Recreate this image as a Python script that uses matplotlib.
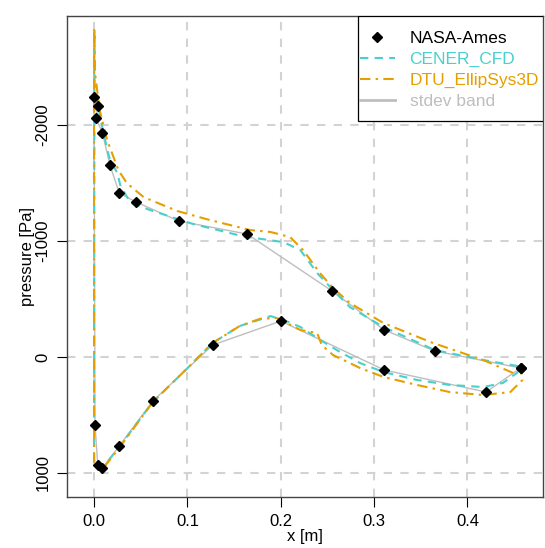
"""Surface pressure along the chord: NASA-Ames measurements vs two CFD codes."""

import matplotlib
matplotlib.use('Agg')
import matplotlib.pyplot as plt
from matplotlib.lines import Line2D
from matplotlib.patches import Rectangle

plt.rcParams['font.family'] = ['Liberation Sans', 'DejaVu Sans']

# NASA-Ames measurements, suction side then pressure side (x [m], p [Pa])
nasa_upper_x = [0.000, 0.004, 0.002, 0.009, 0.017, 0.027, 0.045, 0.091, 0.164, 0.255, 0.311, 0.365, 0.457]
nasa_upper_p = [-2241, -2164, -2060, -1931, -1655, -1414, -1336, -1172, -1060, -569, -233, -52, 95]
nasa_lower_x = [0.001, 0.004, 0.009, 0.027, 0.063, 0.127, 0.200, 0.311, 0.420, 0.457]
nasa_lower_p = [586, 931, 957, 767, 379, -103, -310, 112, 302, 95]

# CENER_CFD: trailing edge -> suction side -> leading edge -> pressure side -> trailing edge
cener_x = [0.454, 0.417, 0.365, 0.310, 0.274, 0.256, 0.239, 0.221, 0.203, 0.160, 0.106, 0.060,
           0.039, 0.028, 0.025, 0.017, 0.010, 0.003, 0.000, 0.0005, 0.000, 0.000, 0.003, 0.009,
           0.027, 0.063, 0.098, 0.127, 0.156, 0.183, 0.189, 0.203, 0.221, 0.239, 0.260, 0.285,
           0.310, 0.346, 0.381, 0.417, 0.438, 0.453, 0.457]
cener_p = [78, 26, -60, -259, -431, -578, -724, -922, -990, -1040, -1147, -1267,
           -1328, -1483, -1586, -1698, -1931, -2216, -2388, -2820, -490, 888, 940, 957,
           776, 388, 112, -121, -267, -336, -353, -319, -259, -164, -60, 52,
           129, 198, 241, 259, 224, 138, 95]

# DTU_EllipSys3D, same ordering
dtu_x = [0.449, 0.417, 0.363, 0.310, 0.274, 0.256, 0.242, 0.224, 0.210, 0.189, 0.167, 0.124,
         0.089, 0.053, 0.035, 0.026, 0.014, 0.006, 0.001, 0.000, 0.000, 0.000, 0.003, 0.010,
         0.027, 0.063, 0.098, 0.127, 0.156, 0.178, 0.196, 0.221, 0.239, 0.244, 0.256, 0.285,
         0.310, 0.346, 0.381, 0.417, 0.446, 0.459, 0.457]
dtu_p = [138, 26, -121, -293, -466, -595, -724, -922, -1034, -1078, -1095, -1181,
         -1259, -1379, -1500, -1612, -1871, -2129, -2448, -2836, -490, 905, 945, 957,
         784, 388, 112, -121, -267, -330, -336, -233, -207, -103, -17, 95,
         172, 241, 302, 328, 302, 198, 112]

x_ticks = [0.0, 0.1, 0.2, 0.3, 0.4]
x_ticklabels = ['0.0', '0.1', '0.2', '0.3', '0.4']
p_ticks = [-2000, -1000, 0, 1000]
p_ticklabels = ['-2000', '-1000', '0', '1000']

CYAN = '#48D1CC'
ORANGE = '#E69F00'
GREY = '#BEBEBE'

fig = plt.figure(figsize=(5.45, 5.48), dpi=100)
ax = fig.add_axes([67 / 545, 51 / 548, 476 / 545, 481 / 548])

for t in x_ticks:
    ax.axvline(t, color='#D3D3D3', lw=1.5, ls=(0, (4, 4)), zorder=0)
for t in p_ticks:
    ax.axhline(t, color='#D3D3D3', lw=1.5, ls=(0, (4, 4)), zorder=0)

# stdev band drawn as a thin grey outline through the measurements
band_x = nasa_upper_x[::-1] + nasa_lower_x
band_p = nasa_upper_p[::-1] + nasa_lower_p
ax.plot(band_x, band_p, color=GREY, lw=1.0, zorder=1)

ax.plot(cener_x, cener_p, color=CYAN, lw=1.5, ls=(0, (4, 3)), zorder=2)
ax.plot(dtu_x, dtu_p, color=ORANGE, lw=1.5, ls=(0, (5, 2.5, 1.2, 2.5)), zorder=3)

ax.plot(nasa_upper_x + nasa_lower_x, nasa_upper_p + nasa_lower_p, ls='none',
        marker='D', ms=5.5, color='black', zorder=4)

ax.set_xlim(-0.029, 0.481)
ax.set_ylim(1207, -2940)
ax.set_xticks(x_ticks)
ax.set_xticklabels(x_ticklabels, fontsize=12)
ax.set_yticks(p_ticks)
ax.set_yticklabels(p_ticklabels, fontsize=12, rotation=90, va='center')
ax.tick_params(direction='out', length=7, width=0.8, pad=5)
ax.set_xlabel('x [m]', fontsize=12, labelpad=0)
ax.set_ylabel('pressure [Pa]', fontsize=12, labelpad=0)
for s in ax.spines.values():
    s.set_color('#444444')
    s.set_linewidth(1.0)

# R-style legend box: drawn separately so it can be taller than matplotlib's padding allows
ax.add_patch(Rectangle((0.611, 0.782), 0.389, 0.218, transform=ax.transAxes,
                       facecolor='white', edgecolor='black', lw=0.9, zorder=5))

handles = [
    Line2D([0], [0], ls='none', marker='D', ms=5.5, color='black'),
    Line2D([0], [0], color=CYAN, lw=1.5, ls=(0, (4, 3))),
    Line2D([0], [0], color=ORANGE, lw=1.5, ls=(0, (5, 2.5, 1.2, 2.5))),
    Line2D([0], [0], color=GREY, lw=2.0),
]
labels = ['NASA-Ames', 'CENER_CFD', 'DTU_EllipSys3D', 'stdev band']
leg = ax.legend(handles, labels, loc='upper right',
                bbox_to_anchor=(1.0 - 4 / 476, 1.0 - 15 / 481),
                borderaxespad=0, borderpad=0, frameon=False,
                fontsize=12.5, handlelength=2.0, handletextpad=0.86, labelspacing=0.33)
leg.set_zorder(6)
for txt, c in zip(leg.get_texts(), ['black', CYAN, ORANGE, GREY]):
    txt.set_color(c)

fig.savefig('out.png', dpi=100)
